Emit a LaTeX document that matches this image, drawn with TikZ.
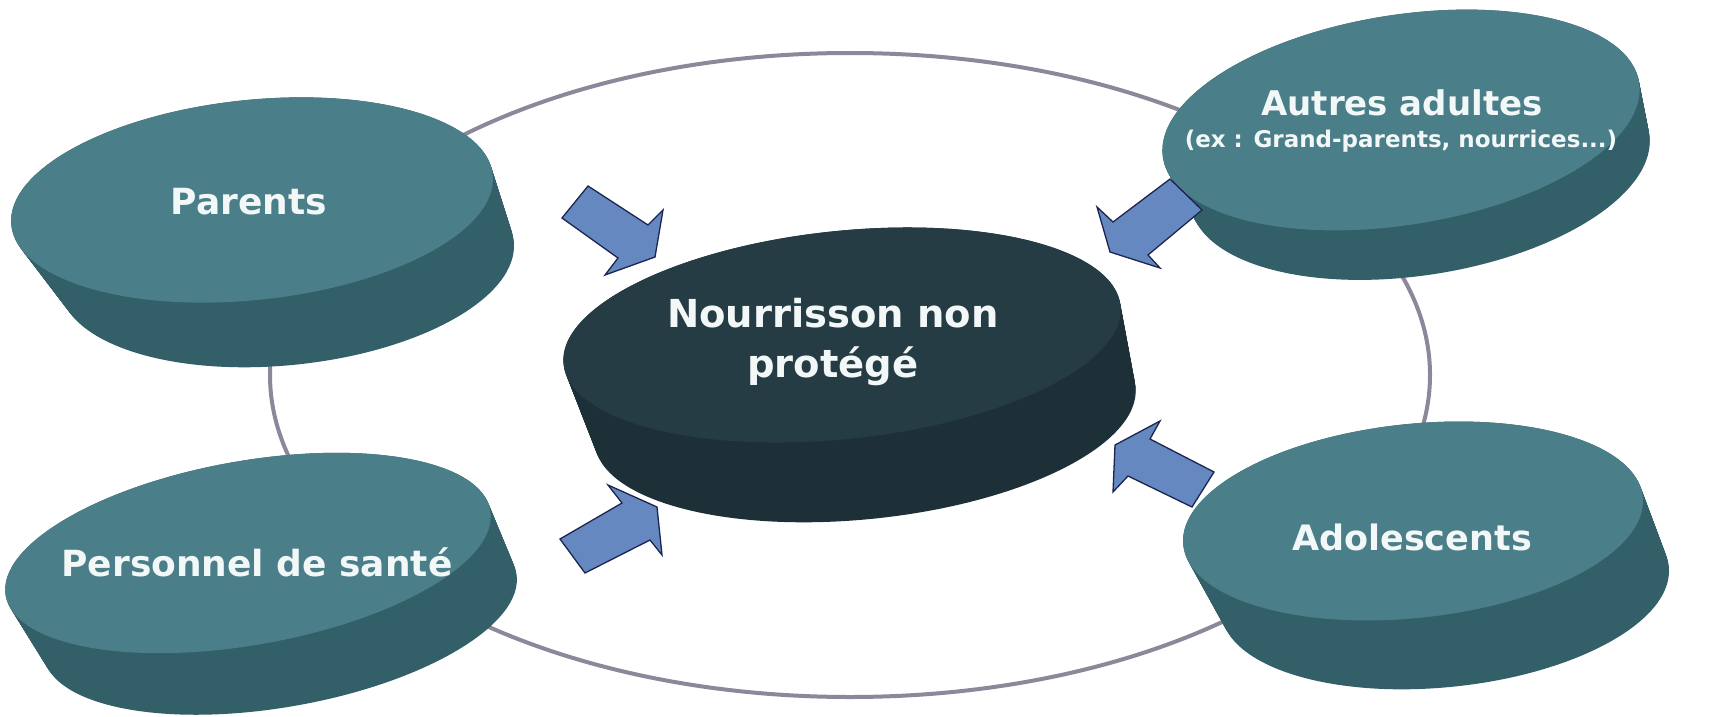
\documentclass[tikz,border=0pt]{standalone}
\usepackage{fontspec}
\setmainfont{DejaVu Sans}
\definecolor{tealtop}{HTML}{4A7E89}
\definecolor{tealside}{HTML}{335F69}
\definecolor{darktop}{HTML}{263C44}
\definecolor{darkside}{HTML}{1E3037}
\definecolor{arrowf}{HTML}{6688C0}
\definecolor{arrowd}{HTML}{1C2450}
\definecolor{ringc}{HTML}{8C889A}
\definecolor{txtc}{HTML}{F2F7F7}
% #1 cx #2 cy #3 rx #4 ry #5 rot #6 bx #7 by #8 brx #9 colour prefix
\newcommand\mydisc[9]{%
  \foreach \k in {0,...,50}{%
    \pgfmathsetmacro\px{#1+(#6-#1)*\k/50}%
    \pgfmathsetmacro\py{#2+(#7-#2)*\k/50}%
    \pgfmathsetmacro\pr{#3+(#8-#3)*\k/50}%
    \fill[#9side, rotate around={#5:(\px,\py)}] (\px,\py) ellipse [x radius=\pr pt, y radius=#4pt];
  }%
  \fill[#9top, rotate around={#5:(#1,#2)}] (#1,#2) ellipse [x radius=#3pt, y radius=#4pt];
}
\tikzset{
  blockarrow/.style={fill=arrowf, draw=arrowd, line width=1.3pt, line join=miter},
  lbl/.style={text=txtc, align=center, inner sep=0pt},
  ring/.style={draw=ringc, line width=4pt}
}
\begin{document}
\begin{tikzpicture}[x=1pt,y=-1pt]
\useasboundingbox (0,0) rectangle (1731,717);
\fill[white] (0,0) rectangle (1731,717);
% ring
\draw[ring] (850,375) ellipse [x radius=580pt, y radius=322pt];
% discs
\mydisc{252}{200}{242}{100}{6}{287}{265}{228}{teal}
\mydisc{248}{553}{246}{92}{10}{280}{615}{240}{teal}
\mydisc{1401}{120}{241}{105}{9}{1420}{170}{232}{teal}
\mydisc{1413}{521}{231}{97}{6}{1445}{590}{225}{teal}
\mydisc{842}{335}{280}{104}{6}{865}{415}{272}{dark}
% labels
\node[lbl, font=\bfseries\fontsize{36}{44}\selectfont] (parents) at (249,202) {Parents};
\node[lbl, font=\bfseries\fontsize{36}{44}\selectfont] (sante) at (257,562) {Personnel de santé};
\node[lbl, font=\bfseries\fontsize{34}{40}\selectfont] (autres) at (1402,103) {Autres adultes};
\node[lbl, font=\bfseries\fontsize{23}{26}\selectfont] (autresex) at (1401,141) {(ex : Grand-parents, nourrices...)};
\node[lbl, font=\bfseries\fontsize{35}{44}\selectfont] (ado) at (1412,537) {Adolescents};
\node[lbl, font=\bfseries\fontsize{38.5}{50}\selectfont] (bebe) at (833,342) {Nourrisson non\\protégé};
% arrows
\draw[blockarrow] (562,218) -- (588,186) -- (648,225) -- (663,210) -- (655,257) -- (605,275) -- (618,258) -- cycle;
\draw[blockarrow] (585,573) -- (560,539) -- (622,503) -- (608,485) -- (657,507) -- (662,555) -- (650,540) -- cycle;
\draw[blockarrow] (1170,179) -- (1202,210) -- (1148,255) -- (1160,268) -- (1110,252) -- (1097,207) -- (1113,222) -- cycle;
\draw[blockarrow] (1214,472) -- (1192,507) -- (1128,476) -- (1113,492) -- (1115,445) -- (1160,421) -- (1150,439) -- cycle;
\end{tikzpicture}
\end{document}
